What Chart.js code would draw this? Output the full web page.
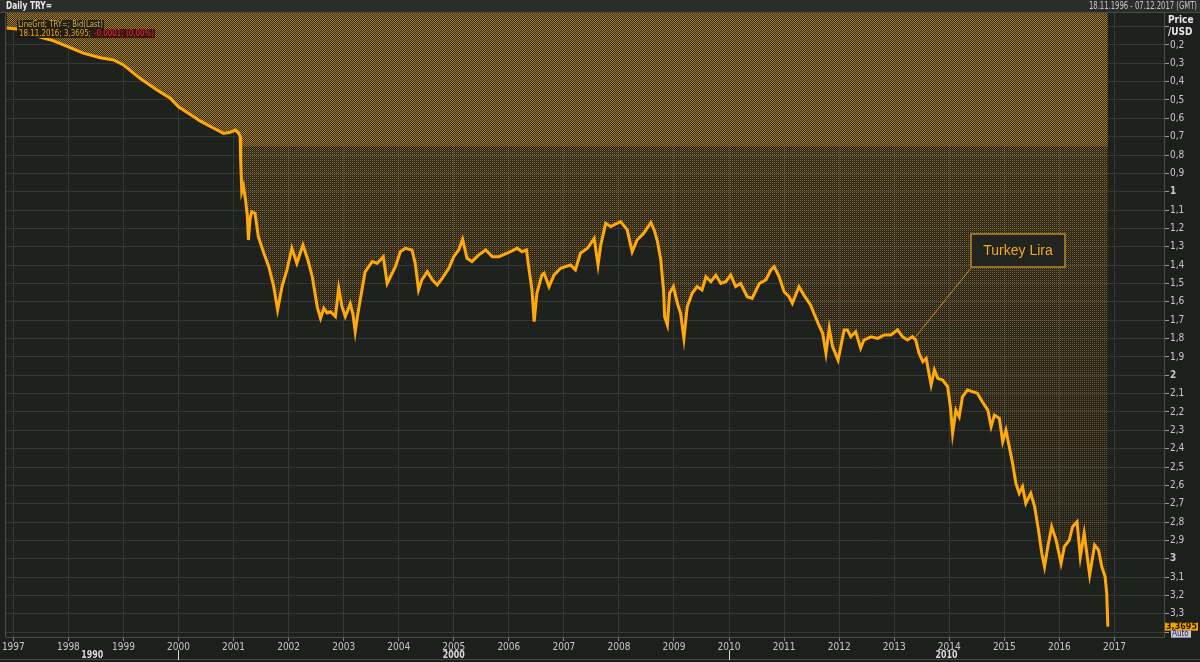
<!DOCTYPE html>
<html lang="en">
<head>
    <meta charset="UTF-8">
    <title>Daily TRY=</title>
    <script src="https://cdn.jsdelivr.net/npm/chart.js"></script>
    <style>
        body { margin: 0; background: #1d1f1d; }
        #chart { display: block; }
    </style>
</head>
<body>
    <canvas id="chart" width="1200" height="662"></canvas>
    <script>
        // dates as fractional years, rates in TRY per USD
        const DATES = [
            1996.88, 1997.06, 1997.30, 1997.50, 1997.73, 1998.00, 1998.27, 1998.58, 1998.82, 1999.00,
            1999.30, 1999.61, 1999.85, 2000.00, 2000.27, 2000.39, 2000.64, 2000.82, 2000.94, 2001.03,
            2001.09, 2001.12, 2001.13, 2001.15, 2001.18, 2001.22, 2001.25, 2001.27, 2001.30, 2001.33,
            2001.39, 2001.45, 2001.55, 2001.64, 2001.73, 2001.80, 2001.88, 2001.97, 2002.06, 2002.15,
            2002.26, 2002.35, 2002.43, 2002.52, 2002.58, 2002.64, 2002.70, 2002.76, 2002.85, 2002.91,
            2002.97, 2003.03, 2003.12, 2003.17, 2003.21, 2003.25, 2003.30, 2003.39, 2003.52, 2003.61,
            2003.72, 2003.79, 2003.85, 2003.94, 2004.03, 2004.12, 2004.24, 2004.30, 2004.36, 2004.42,
            2004.52, 2004.61, 2004.70, 2004.79, 2004.91, 2005.00, 2005.09, 2005.16, 2005.24, 2005.33,
            2005.45, 2005.58, 2005.70, 2005.82, 2005.97, 2006.15, 2006.24, 2006.32, 2006.36, 2006.42,
            2006.46, 2006.51, 2006.60, 2006.64, 2006.73, 2006.82, 2006.94, 2007.12, 2007.21, 2007.30,
            2007.43, 2007.55, 2007.62, 2007.67, 2007.76, 2007.85, 2008.03, 2008.15, 2008.24, 2008.33,
            2008.45, 2008.58, 2008.64, 2008.70, 2008.76, 2008.81, 2008.83, 2008.88, 2008.92, 2008.99,
            2009.06, 2009.12, 2009.18, 2009.24, 2009.33, 2009.42, 2009.51, 2009.58, 2009.67, 2009.76,
            2009.85, 2009.94, 2010.03, 2010.12, 2010.21, 2010.33, 2010.42, 2010.55, 2010.67, 2010.76,
            2010.82, 2010.91, 2011.00, 2011.09, 2011.15, 2011.27, 2011.36, 2011.48, 2011.54, 2011.63,
            2011.70, 2011.76, 2011.82, 2011.88, 2011.98, 2012.03, 2012.09, 2012.15, 2012.21, 2012.30,
            2012.39, 2012.45, 2012.58, 2012.70, 2012.82, 2012.94, 2013.06, 2013.15, 2013.24, 2013.33,
            2013.39, 2013.45, 2013.52, 2013.58, 2013.67, 2013.73, 2013.79, 2013.88, 2013.97, 2014.02,
            2014.06, 2014.12, 2014.18, 2014.24, 2014.33, 2014.42, 2014.51, 2014.60, 2014.70, 2014.76,
            2014.82, 2014.91, 2014.97, 2015.03, 2015.09, 2015.15, 2015.21, 2015.27, 2015.33, 2015.39,
            2015.48, 2015.55, 2015.62, 2015.68, 2015.73, 2015.79, 2015.86, 2015.94, 2016.03, 2016.09,
            2016.18, 2016.24, 2016.32, 2016.38, 2016.45, 2016.55, 2016.64, 2016.71, 2016.77, 2016.83,
            2016.86, 2016.88
        ];
        const RATES = [
            0.108, 0.113, 0.138, 0.158, 0.178, 0.210, 0.245, 0.270, 0.282, 0.309,
            0.382, 0.445, 0.490, 0.537, 0.590, 0.614, 0.654, 0.682, 0.676, 0.664,
            0.680, 0.700, 0.836, 1.000, 0.970, 1.050, 1.130, 1.263, 1.150, 1.109,
            1.117, 1.245, 1.335, 1.408, 1.517, 1.644, 1.517, 1.426, 1.308, 1.390,
            1.290, 1.372, 1.463, 1.627, 1.690, 1.635, 1.660, 1.654, 1.680, 1.526,
            1.627, 1.680, 1.610, 1.670, 1.763, 1.680, 1.590, 1.436, 1.380, 1.390,
            1.354, 1.500, 1.463, 1.408, 1.327, 1.308, 1.317, 1.390, 1.535, 1.480,
            1.436, 1.480, 1.508, 1.472, 1.417, 1.354, 1.317, 1.259, 1.363, 1.380,
            1.345, 1.317, 1.354, 1.354, 1.335, 1.308, 1.327, 1.317, 1.408, 1.535,
            1.708, 1.553, 1.454, 1.444, 1.517, 1.454, 1.417, 1.399, 1.426, 1.335,
            1.308, 1.254, 1.399, 1.290, 1.172, 1.190, 1.163, 1.208, 1.327, 1.263,
            1.226, 1.168, 1.208, 1.272, 1.372, 1.535, 1.681, 1.726, 1.553, 1.517,
            1.608, 1.662, 1.799, 1.627, 1.553, 1.517, 1.535, 1.463, 1.490, 1.454,
            1.500, 1.490, 1.454, 1.517, 1.500, 1.572, 1.581, 1.500, 1.480, 1.426,
            1.408, 1.463, 1.545, 1.572, 1.608, 1.517, 1.563, 1.617, 1.662, 1.726,
            1.771, 1.880, 1.744, 1.844, 1.917, 1.844, 1.753, 1.753, 1.790, 1.763,
            1.853, 1.808, 1.790, 1.799, 1.780, 1.780, 1.753, 1.790, 1.808, 1.790,
            1.808, 1.880, 1.926, 1.908, 2.053, 1.971, 2.017, 2.026, 2.062, 2.171,
            2.316, 2.190, 2.226, 2.117, 2.080, 2.089, 2.098, 2.144, 2.190, 2.280,
            2.217, 2.235, 2.362, 2.300, 2.390, 2.480, 2.589, 2.643, 2.607, 2.698,
            2.643, 2.716, 2.843, 2.970, 3.043, 2.934, 2.825, 2.898, 3.025, 2.934,
            2.898, 2.825, 2.798, 2.990, 2.861, 3.088, 2.925, 2.952, 3.043, 3.098,
            3.190, 3.3695
        ];
        const YEAR_TICKS = [1997, 1998, 1999, 2000, 2001, 2002, 2003, 2004, 2005, 2006, 2007,
                            2008, 2009, 2010, 2011, 2012, 2013, 2014, 2015, 2016, 2017];
        const PRICE_TICKS = [0.1, 0.2, 0.3, 0.4, 0.5, 0.6, 0.7, 0.8, 0.9, 1, 1.1, 1.2, 1.3, 1.4, 1.5, 1.6, 1.7,
                             1.8, 1.9, 2, 2.1, 2.2, 2.3, 2.4, 2.5, 2.6, 2.7, 2.8, 2.9, 3, 3.1, 3.2, 3.3, 3.4];
        const DECADES = [1990, 2000, 2010];
        const X_MIN = 1996.867, X_MAX = 2017.9;
        const Y_MIN = 0.026, Y_MAX = 3.426;
        const LAST_TEXT = '18.11.2016; 3,3695;';
        const CHANGE_TEXT = '-0,0001; (0,00%)';
        const LAST_LABEL = '3,3695';
        const NOTE = { text: 'Turkey Lira', x: 2013.39, y: 1.79 };

        const FONT = '"Liberation Sans Narrow", "DejaVu Sans Condensed", "Liberation Sans", sans-serif';
        const LINE_COLOR = '#ffa90a';

        let fillPattern = null;
        // dithered fill: dense checker at the top, fading dots further down
        function buildPattern(ctx, w, h) {
            const off = document.createElement('canvas');
            off.width = w;
            off.height = h;
            const octx = off.getContext('2d');
            const img = octx.createImageData(w, h);
            for (let y = 0; y < h; y++) {
                const t = Math.max(0, Math.min(1, (y - 146) / 491));
                const k = 0.75 - 0.45 * t;
                const k2 = 0.3 * (1 - t) * (1 - t);
                for (let x = 0; x < w; x++) {
                    const i = (y * w + x) * 4;
                    let c;
                    if (y < 146) {
                        c = (x + y) % 2 === 0 ? [165, 122, 36, 255] : [52, 44, 22, 255];
                    } else if (x % 2 === 0 && y % 2 === 0) {
                        c = [190, 138, 38, 255 * k];
                    } else if ((x + y) % 2 === 0) {
                        c = [190, 138, 38, 255 * k2];
                    } else {
                        c = [60, 52, 28, 30];
                    }
                    img.data[i] = c[0];
                    img.data[i + 1] = c[1];
                    img.data[i + 2] = c[2];
                    img.data[i + 3] = c[3];
                }
            }
            octx.putImageData(img, 0, 0);
            return ctx.createPattern(off, 'repeat');
        }

        function priceLabel(v) {
            if (v < 0.15 || v > 3.35) return '';
            const r = Math.round(v * 10);
            return r % 10 === 0 ? String(r / 10) : (r / 10).toFixed(1).replace('.', ',');
        }

        function isWhole(v) {
            return Math.round(v * 10) % 10 === 0;
        }

        const frame = {
            id: 'frame',
            beforeDraw(chart) {
                const { ctx, chartArea: a } = chart;
                ctx.save();
                ctx.fillStyle = '#1d1f1d';
                ctx.fillRect(0, 0, chart.width, chart.height);
                ctx.fillStyle = '#1f211f';
                ctx.fillRect(a.left, a.top, a.right - a.left, a.bottom - a.top);
                ctx.restore();
            },
            afterDraw(chart) {
                const { ctx, chartArea: a, scales } = chart;
                const x = scales.x, y = scales.y;
                ctx.save();

                // header band
                ctx.fillStyle = '#2b2d2b';
                ctx.fillRect(0, 0, chart.width, 12);
                ctx.fillStyle = '#4a4c4a';
                ctx.fillRect(0, 12, chart.width, 1);
                ctx.textBaseline = 'middle';
                ctx.fillStyle = '#e6e6e6';
                ctx.font = 'bold 10px ' + FONT;
                ctx.textAlign = 'left';
                ctx.fillText('Daily TRY=', 6, 6.5, 46);
                ctx.fillStyle = '#c8c8c8';
                ctx.font = '10px ' + FONT;
                ctx.textAlign = 'right';
                ctx.fillText('18.11.1996 - 07.12.2017 (GMT)', 1197, 6.5, 108);

                // left border
                ctx.fillStyle = '#4a4c4a';
                ctx.fillRect(a.left - 1, a.top, 1, a.bottom - a.top);

                // axis title
                ctx.fillStyle = '#e6e6e6';
                ctx.font = 'bold 10px ' + FONT;
                ctx.textAlign = 'left';
                ctx.fillText('Price', 1168, 20, 26);
                ctx.fillText('/USD', 1168, 32, 26);

                // legend text
                ctx.fillStyle = 'rgba(26,26,20,0.9)';
                ctx.fillRect(17, 20, 87, 9);
                ctx.fillRect(17, 29, 138, 9);
                ctx.font = '9px ' + FONT;
                ctx.fillStyle = '#d8b454';
                ctx.fillText('LineGrd; TRY=; Bid(Last)', 18, 25, 85);
                ctx.fillStyle = '#f0a020';
                ctx.fillText(LAST_TEXT, 19, 34, 72);
                ctx.fillStyle = '#3a1414';
                ctx.fillRect(93, 29, 62, 9);
                ctx.fillStyle = '#e8302a';
                ctx.fillText(CHANGE_TEXT, 94, 34, 60);

                // last value box
                const ly = y.getPixelForValue(RATES[RATES.length - 1]);
                ctx.fillStyle = '#f5a500';
                ctx.fillRect(1165, ly - 4, 33, 8);
                ctx.fillStyle = '#2a1a00';
                ctx.font = 'bold 9px ' + FONT;
                ctx.fillText(LAST_LABEL, 1166, ly + 0.5, 31);
                ctx.fillStyle = '#c8c8d8';
                ctx.fillRect(1171, ly + 4, 20, 7);
                ctx.fillStyle = '#28285a';
                ctx.font = '8px ' + FONT;
                ctx.fillText('Auto', 1172, ly + 7.5, 18);

                // decade row
                ctx.fillStyle = '#4a4c4a';
                ctx.fillRect(0, 659, chart.width, 1);
                ctx.fillStyle = '#d8d8d8';
                ctx.font = 'bold 10px ' + FONT;
                ctx.textAlign = 'center';
                DECADES.forEach(d => {
                    const from = Math.max(d, X_MIN), to = Math.min(d + 10, X_MAX);
                    const cx = (x.getPixelForValue(from) + x.getPixelForValue(to)) / 2;
                    ctx.fillText(String(d), cx, 655, 22);
                    if (d > X_MIN) {
                        ctx.fillRect(Math.round(x.getPixelForValue(d)), 650, 1, 10);
                    }
                });

                // annotation
                const px = x.getPixelForValue(NOTE.x), py = y.getPixelForValue(NOTE.y);
                ctx.strokeStyle = '#c89020';
                ctx.lineWidth = 1;
                ctx.beginPath();
                ctx.moveTo(px, py);
                ctx.lineTo(971, 268);
                ctx.stroke();
                ctx.fillStyle = '#222420';
                ctx.fillRect(971, 234, 94, 33);
                ctx.lineWidth = 1.5;
                ctx.strokeStyle = '#b8882a';
                ctx.strokeRect(971, 234, 94, 33);
                ctx.fillStyle = '#f2a82a';
                ctx.font = '14px "Liberation Sans", sans-serif';
                ctx.textAlign = 'center';
                ctx.fillText(NOTE.text, 1018, 251);
                ctx.restore();
            }
        };

        new Chart(document.getElementById('chart'), {
            type: 'line',
            data: {
                datasets: [{
                    data: DATES.map((d, i) => ({ x: d, y: RATES[i] })),
                    borderColor: LINE_COLOR,
                    borderWidth: 3,
                    pointRadius: 0,
                    tension: 0,
                    fill: { value: Y_MIN },
                    backgroundColor: (context) => {
                        const chart = context.chart;
                        if (!fillPattern) fillPattern = buildPattern(chart.ctx, chart.width, chart.height);
                        return fillPattern;
                    }
                }]
            },
            options: {
                responsive: false,
                devicePixelRatio: 1,
                animation: false,
                layout: { padding: { left: 6, top: 13, right: 0, bottom: 0 } },
                plugins: { legend: { display: false }, tooltip: { enabled: false } },
                scales: {
                    x: {
                        type: 'linear',
                        min: X_MIN,
                        max: X_MAX,
                        afterBuildTicks: s => { s.ticks = YEAR_TICKS.map(v => ({ value: v })); },
                        afterFit: s => { s.height = 25; },
                        grid: { color: '#363836', tickColor: '#8a8a8a', tickLength: 4 },
                        border: { color: '#4a4c4a' },
                        ticks: {
                            color: '#c8c8c8',
                            font: { family: FONT, size: 10 },
                            padding: 0,
                            maxRotation: 0,
                            autoSkip: false,
                            callback: v => String(v)
                        }
                    },
                    y: {
                        position: 'right',
                        reverse: true,
                        min: Y_MIN,
                        max: Y_MAX,
                        afterBuildTicks: s => { s.ticks = PRICE_TICKS.map(v => ({ value: v })); },
                        afterFit: s => { s.width = 36; },
                        grid: { color: '#363836', tickColor: '#9a9a9a', tickLength: 5 },
                        border: { color: '#4a4c4a' },
                        ticks: {
                            color: '#c8c8c8',
                            padding: 1,
                            autoSkip: false,
                            font: ctx => ({
                                family: FONT,
                                size: 10,
                                weight: (ctx.tick && isWhole(ctx.tick.value)) ? 'bold' : 'normal'
                            }),
                            callback: v => priceLabel(v)
                        }
                    }
                }
            },
            plugins: [frame]
        });
    </script>
</body>
</html>
